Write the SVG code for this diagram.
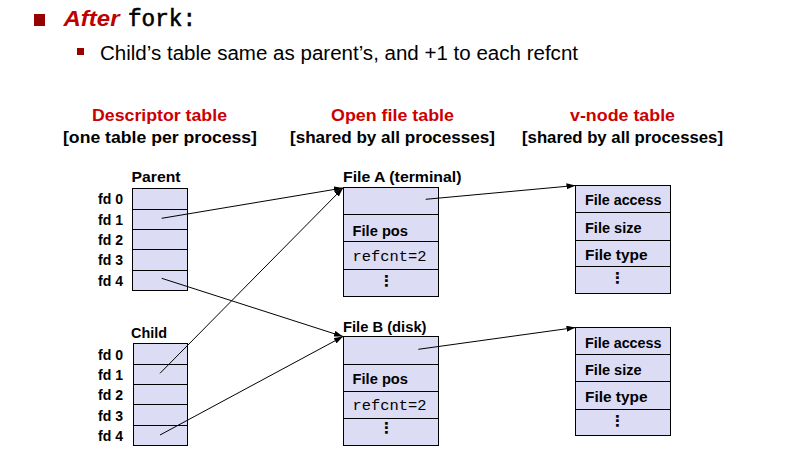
<svg xmlns="http://www.w3.org/2000/svg" width="810" height="452" viewBox="0 0 810 452">
  <defs>
    <marker id="arrow" markerWidth="9" markerHeight="6" refX="9" refY="3" orient="auto" markerUnits="userSpaceOnUse">
      <path d="M0,0 L9,3 L0,6 z" fill="#000"/>
    </marker>
    <style>
      .sans{font-family:"Liberation Sans",Arial,sans-serif}
      .lbl{font-family:"Liberation Sans",Arial,sans-serif;font-weight:bold;font-size:14px;fill:#000}
      .hdr{font-family:"Liberation Sans",Arial,sans-serif;font-weight:bold;font-size:17px;fill:#cc0000}
      .sub{font-family:"Liberation Sans",Arial,sans-serif;font-weight:bold;font-size:17px;fill:#000}
      .mono{font-family:"Liberation Mono","Courier New",monospace;font-size:15px;fill:#000}
      .dots{font-family:"DejaVu Sans",sans-serif;font-weight:bold;font-size:15px;fill:#000}
      .box{fill:#dcdcf4;stroke:#000;stroke-width:1}
      .rule{stroke:#000;stroke-width:1}
      .link{stroke:#000;stroke-width:1;fill:none;marker-end:url(#arrow)}
    </style>
  </defs>

  <rect width="810" height="452" fill="#fff"/>

  <!-- heading bullets -->
  <g id="heading">
    <rect x="34" y="14" width="11" height="12" fill="#990000"/>
    <text class="sans" x="63.5" y="26" font-size="22" font-weight="bold" font-style="italic" fill="#c00000" textLength="56" lengthAdjust="spacingAndGlyphs">After</text>
    <text x="128" y="26" font-family="Liberation Mono,'Courier New',monospace" font-size="23" fill="#000" stroke="#000" stroke-width="0.6" textLength="68" lengthAdjust="spacingAndGlyphs">fork:</text>
    <rect x="77" y="48" width="7" height="7" fill="#990000"/>
    <text class="sans" x="100" y="59.5" font-size="20" fill="#000" textLength="478" lengthAdjust="spacingAndGlyphs">Child’s table same as parent’s, and +1 to each refcnt</text>
  </g>

  <!-- column headers -->
  <g id="headers">
    <text class="hdr" x="92" y="121" textLength="135" lengthAdjust="spacingAndGlyphs">Descriptor table</text>
    <text class="sub" x="63" y="143" textLength="194" lengthAdjust="spacingAndGlyphs">[one table per process]</text>
    <text class="hdr" x="331" y="121" textLength="123" lengthAdjust="spacingAndGlyphs">Open file table</text>
    <text class="sub" x="290" y="143" textLength="205" lengthAdjust="spacingAndGlyphs">[shared by all processes]</text>
    <text class="hdr" x="570" y="121" textLength="105" lengthAdjust="spacingAndGlyphs">v-node table</text>
    <text class="sub" x="522" y="143" textLength="201" lengthAdjust="spacingAndGlyphs">[shared by all processes]</text>
  </g>

  <!-- parent descriptor table -->
  <g id="parent">
    <text class="lbl" x="131.5" y="182" textLength="49" lengthAdjust="spacingAndGlyphs">Parent</text>
    <rect class="box" x="132.5" y="188.5" width="55" height="102"/>
    <path class="rule" d="M132.5,209.5H187.5M132.5,229.5H187.5M132.5,249.5H187.5M132.5,270.5H187.5"/>
    <text class="lbl" x="98" y="204" textLength="25" lengthAdjust="spacingAndGlyphs">fd 0</text>
    <text class="lbl" x="98" y="224.5" textLength="25" lengthAdjust="spacingAndGlyphs">fd 1</text>
    <text class="lbl" x="98" y="245" textLength="25" lengthAdjust="spacingAndGlyphs">fd 2</text>
    <text class="lbl" x="98" y="265" textLength="25" lengthAdjust="spacingAndGlyphs">fd 3</text>
    <text class="lbl" x="98" y="285.5" textLength="25" lengthAdjust="spacingAndGlyphs">fd 4</text>
  </g>

  <!-- child descriptor table -->
  <g id="child">
    <text class="lbl" x="131" y="338" textLength="36" lengthAdjust="spacingAndGlyphs">Child</text>
    <rect class="box" x="133.5" y="343.5" width="54" height="102"/>
    <path class="rule" d="M133.5,364.5H187.5M133.5,384.5H187.5M133.5,404.5H187.5M133.5,425.5H187.5"/>
    <text class="lbl" x="98" y="359.5" textLength="25" lengthAdjust="spacingAndGlyphs">fd 0</text>
    <text class="lbl" x="98" y="380" textLength="25" lengthAdjust="spacingAndGlyphs">fd 1</text>
    <text class="lbl" x="98" y="400" textLength="25" lengthAdjust="spacingAndGlyphs">fd 2</text>
    <text class="lbl" x="98" y="420.5" textLength="25" lengthAdjust="spacingAndGlyphs">fd 3</text>
    <text class="lbl" x="98" y="440.5" textLength="25" lengthAdjust="spacingAndGlyphs">fd 4</text>
  </g>

  <!-- open file table entry A -->
  <g id="file-a">
    <text class="lbl" x="343" y="182" textLength="118.5" lengthAdjust="spacingAndGlyphs">File A (terminal)</text>
    <rect class="box" x="343.5" y="187.5" width="95" height="109"/>
    <path class="rule" d="M343.5,214.5H438.5M343.5,241.5H438.5M343.5,269.5H438.5"/>
    <text class="lbl" x="352.5" y="235.5" textLength="55.5" lengthAdjust="spacingAndGlyphs">File pos</text>
    <text class="mono" x="352.5" y="261" textLength="74" lengthAdjust="spacingAndGlyphs">refcnt=2</text>
    <text class="dots" x="386.5" y="281" text-anchor="middle" dominant-baseline="central">⋮</text>
  </g>

  <!-- open file table entry B -->
  <g id="file-b">
    <text class="lbl" x="343" y="331.5" textLength="83.5" lengthAdjust="spacingAndGlyphs">File B (disk)</text>
    <rect class="box" x="343.5" y="336.5" width="95" height="109"/>
    <path class="rule" d="M343.5,364.5H438.5M343.5,391.5H438.5M343.5,418.5H438.5"/>
    <text class="lbl" x="352.5" y="384" textLength="55.5" lengthAdjust="spacingAndGlyphs">File pos</text>
    <text class="mono" x="352.5" y="410" textLength="74" lengthAdjust="spacingAndGlyphs">refcnt=2</text>
    <text class="dots" x="386.5" y="428" text-anchor="middle" dominant-baseline="central">⋮</text>
  </g>

  <!-- v-node table entry A -->
  <g id="vnode-a">
    <rect class="box" x="575.5" y="185.5" width="95" height="108"/>
    <path class="rule" d="M575.5,212.5H670.5M575.5,240.5H670.5M575.5,266.5H670.5"/>
    <text class="lbl" x="585" y="205" textLength="76.5" lengthAdjust="spacingAndGlyphs">File access</text>
    <text class="lbl" x="585" y="232.5" textLength="56.5" lengthAdjust="spacingAndGlyphs">File size</text>
    <text class="lbl" x="585" y="259.5" textLength="62.5" lengthAdjust="spacingAndGlyphs">File type</text>
    <text class="dots" x="617.5" y="277.5" text-anchor="middle" dominant-baseline="central">⋮</text>
  </g>

  <!-- v-node table entry B -->
  <g id="vnode-b">
    <rect class="box" x="575.5" y="327.5" width="95" height="108"/>
    <path class="rule" d="M575.5,354.5H670.5M575.5,381.5H670.5M575.5,409.5H670.5"/>
    <text class="lbl" x="585" y="347.5" textLength="76.5" lengthAdjust="spacingAndGlyphs">File access</text>
    <text class="lbl" x="585" y="375" textLength="56.5" lengthAdjust="spacingAndGlyphs">File size</text>
    <text class="lbl" x="585" y="401.5" textLength="62.5" lengthAdjust="spacingAndGlyphs">File type</text>
    <text class="dots" x="617.5" y="421" text-anchor="middle" dominant-baseline="central">⋮</text>
  </g>

  <!-- pointers between tables -->
  <g id="connectors">
    <path class="link" d="M161.7,218.3L343,188"/>
    <path class="link" d="M160,373.3L343,188"/>
    <path class="link" d="M161.7,278.3L343,336.5"/>
    <path class="link" d="M160,435L343,336.5"/>
    <path class="link" d="M425.7,199.3L575.5,185.5"/>
    <path class="link" d="M418.3,349.3L575.5,327.5"/>
  </g>
</svg>
